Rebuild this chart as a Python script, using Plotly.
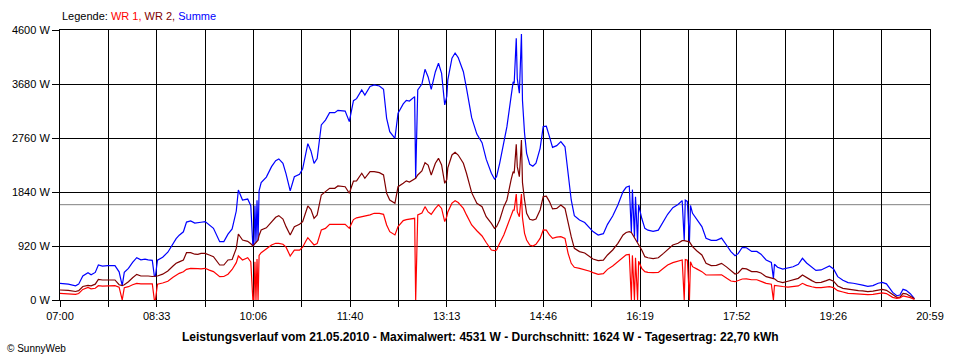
import plotly.graph_objects as go

# Time stamps (HH:MM) and power values in W
times = [
    "07:00", "07:08", "07:15", "07:18", "07:22", "07:27", "07:30", "07:34", "07:37", "07:41",
    "07:46", "07:53", "07:57", "08:00", "08:02", "08:06", "08:10", "08:14", "08:18", "08:22",
    "08:25", "08:29", "08:31", "08:32", "08:34", "08:39", "08:44", "08:49", "08:52", "08:55",
    "08:59", "09:02", "09:06", "09:10", "09:13", "09:16", "09:20",
    "09:24", "09:28", "09:34", "09:38", "09:42", "09:46", "09:50", "09:52", "09:56", "10:01",
    "10:04", "10:06", "10:07", "10:08", "10:09", "10:10", "10:11", "10:12", "10:14", "10:19",
    "10:24", "10:28", "10:31", "10:35", "10:38", "10:42", "10:46", "10:51", "10:54", "10:57",
    "10:59", "11:02", "11:05", "11:08", "11:12", "11:16", "11:20", "11:25", "11:28", "11:35",
    "11:39", "11:43",
    "11:46", "11:51", "11:54", "11:59", "12:03", "12:08", "12:12", "12:15", "12:18", "12:23",
    "12:26", "12:31", "12:34", "12:37", "12:42", "12:43", "12:45", "12:49", "12:52", "12:55",
    "12:58", "13:02", "13:05", "13:08", "13:11", "13:13", "13:14", "13:18", "13:21", "13:24",
    "13:29", "13:32", "13:37", "13:42", "13:47", "13:51", "13:56", "13:59",
    "14:01", "14:04", "14:08", "14:11", "14:15", "14:17", "14:18", "14:20", "14:21", "14:23",
    "14:25", "14:26", "14:28", "14:30", "14:33", "14:36", "14:39", "14:43", "14:46", "14:49",
    "14:52", "14:55", "14:59", "15:03", "15:07", "15:10", "15:13", "15:16", "15:21", "15:26",
    "15:31", "15:34", "15:39", "15:44", "15:48", "15:53", "15:58", "16:03", "16:06", "16:09",
    "16:11", "16:12", "16:14", "16:15", "16:17", "16:18",
    "16:21", "16:24", "16:27", "16:32", "16:37", "16:42", "16:46", "16:51", "16:56", "17:00",
    "17:02", "17:03", "17:05", "17:07", "17:08", "17:10", "17:14", "17:19", "17:23", "17:28",
    "17:33", "17:38", "17:43", "17:47", "17:51", "17:54", "17:58", "18:02", "18:07", "18:12",
    "18:16", "18:21", "18:26", "18:28", "18:29", "18:32", "18:37",
    "18:42", "18:47", "18:52", "18:56", "19:00", "19:05", "19:09", "19:14", "19:19", "19:22",
    "19:26", "19:30", "19:35", "19:40", "19:45", "19:50", "19:54", "19:59", "20:04", "20:09",
    "20:13", "20:17", "20:20", "20:23", "20:27", "20:30", "20:33", "20:36", "20:40", "20:43",
    "20:44",
]

wr2 = [
    170, 165, 145, 160, 230, 250, 240, 270, 352, 341,
    341, 341, 260, 244, 260, 312, 380, 437, 409, 415,
    409, 400, 405, 405, 409, 440, 494, 579, 625, 650,
    682, 806, 806, 780, 778, 795, 795,
    767, 738, 596, 596, 682, 690, 880, 1125, 1022, 1000,
    960, 920, 940, 960, 980, 1000, 1020, 1100, 1193, 1230,
    1335, 1409, 1437, 1380, 1250, 1108, 1250, 1290, 1335, 1477,
    1602, 1540, 1392, 1450, 1789, 1846, 1903, 1903, 1943, 1930,
    1818, 2025,
    2030, 2159, 2073, 2187, 2187, 2170, 2130, 1818, 1704, 1647,
    1931, 1988, 2030, 2010, 2073, 2073, 2130, 2200, 2340, 2300,
    2130, 2330, 2414, 2300, 1988, 2050, 2250, 2471, 2516, 2470,
    2329, 2159, 1829, 1647, 1590, 1420, 1306, 1221,
    1249, 1363, 1590, 1704, 2045, 2187, 2160, 2653, 2272, 2102,
    2726, 2000, 1704, 1477, 1375, 1360, 1380, 1534, 1761, 1770,
    1676, 1551, 1560, 1619, 1560, 1306, 1079, 880, 824, 800,
    727, 699, 670, 680, 767, 852, 966, 1108, 1150, 1164,
    1150, 1120, 1080, 1040, 990, 960,
    852, 738, 720, 704, 720, 795, 864, 937, 966, 1011,
    1011, 1011, 1000, 990, 960, 909, 840, 767, 625, 585,
    590, 625, 560, 500, 443, 460, 540, 530, 483, 483,
    460, 398, 369, 369, 360, 320, 295,
    320, 341, 369, 426, 380, 330, 295, 300, 330, 352,
    320, 239, 199, 182, 175, 159, 155, 142, 150, 170,
    180, 165, 130, 85, 45, 50, 114, 105, 68, 34,
    15,
]

wr1 = [
    114, 105, 97, 110, 180, 215, 190, 200, 244, 235,
    244, 244, 220, 0, 210, 227, 260, 284, 275, 280,
    275, 275, 0, 0, 270, 290, 320, 386, 420, 454,
    480, 522, 540, 530, 535, 530, 540,
    510, 483, 398, 400, 440, 520, 636, 750, 682, 720,
    648, 0, 0, 650, 0, 700, 0, 760, 806, 864,
    937, 966, 966, 950, 900, 750, 850, 850, 900, 1000,
    1062, 1000, 937, 960, 1193, 1220, 1289, 1289, 1289, 1289,
    1221, 1370,
    1400, 1420, 1420, 1450, 1477, 1477, 1460, 1278, 1164, 1108,
    1250, 1352, 1370, 1380, 1392, 0, 1448, 1480, 1590, 1500,
    1460, 1560, 1619, 1560, 1335, 1420, 1500, 1650, 1692, 1660,
    1560, 1450, 1278, 1180, 1091, 980, 852, 840,
    852, 966, 1108, 1249, 1420, 1530, 1530, 1805, 1500, 1420,
    1805, 1400, 1136, 1022, 937, 920, 950, 1050, 1193, 1190,
    1108, 1050, 1070, 1079, 1050, 795, 625, 557, 540, 520,
    490, 466, 437, 450, 522, 579, 653, 738, 770, 778,
    0, 760, 0, 720, 0, 660,
    540, 483, 470, 466, 470, 540, 596, 636, 660, 682,
    0, 690, 680, 0, 650, 568, 530, 483, 426, 430,
    426, 430, 369, 324, 312, 330, 358, 360, 345, 345,
    320, 284, 270, 0, 250, 239, 230,
    220, 225, 239, 284, 250, 225, 210, 212, 225, 227,
    210, 159, 136, 114, 110, 102, 98, 91, 95, 115,
    120, 110, 74, 45, 28, 35, 68, 60, 40, 17,
    10,
]

# Summe = WR 1 + WR 2
summe = [a + b for a, b in zip(wr1, wr2)]

average_w = 1624

x_labels = ["07:00", "", "08:33", "", "10:06", "", "11:40", "", "13:13", "",
            "14:46", "", "16:19", "", "17:52", "", "19:26", "", "20:59"]
y_ticks = [0, 920, 1840, 2760, 3680, 4600]

legend_text = ("Legende: <span style='color:#FF0000'>WR 1, </span>"
               "<span style='color:#800000'>WR 2, </span>"
               "<span style='color:#0000FF'>Summe</span>")
footer_text = ("Leistungsverlauf vom 21.05.2010 - Maximalwert: 4531 W - "
               "Durchschnitt: 1624 W - Tagesertrag: 22,70 kWh")


def to_min(s):
    h, m = s.split(":")
    return int(h) * 60 + int(m)


x = [to_min(t) for t in times]
x_start, x_end = to_min(x_labels[0]), to_min(x_labels[-1])
n = len(x_labels) - 1
x_tickvals = [x_start + (x_end - x_start) * k / n for k in range(n + 1)]

fig = go.Figure()
fig.add_trace(go.Scatter(x=x, y=summe, mode="lines", name="Summe",
                         line=dict(color="#0000FF", width=1.2)))
fig.add_trace(go.Scatter(x=x, y=wr2, mode="lines", name="WR 2",
                         line=dict(color="#800000", width=1.2)))
fig.add_trace(go.Scatter(x=x, y=wr1, mode="lines", name="WR 1",
                         line=dict(color="#FF0000", width=1.2)))

fig.add_hline(y=average_w, line=dict(color="#808080", width=1), layer="below")

font = "Liberation Sans, Arial, sans-serif"
fig.update_layout(
    width=960, height=360,
    margin=dict(l=60, r=30, t=30, b=60),
    paper_bgcolor="white", plot_bgcolor="white",
    showlegend=False,
    font=dict(family=font, size=11, color="black"),
    xaxis=dict(range=[x_start, x_end], tickmode="array", tickvals=x_tickvals,
               ticktext=x_labels, showgrid=True, gridcolor="black", gridwidth=1,
               showline=True, linecolor="black", linewidth=1, mirror=True,
               ticks="outside", ticklen=6, tickcolor="black", zeroline=False,
               tickfont=dict(family=font, size=11, color="black")),
    yaxis=dict(range=[0, 4600], tickmode="array", tickvals=y_ticks,
               ticktext=[f"{v} W" for v in y_ticks], showgrid=True,
               gridcolor="black", gridwidth=1, showline=True, linecolor="black",
               linewidth=1, mirror=True, ticks="outside", ticklen=7,
               tickcolor="black", zeroline=False,
               tickfont=dict(family=font, size=11, color="black")),
    annotations=[
        dict(text=legend_text, xref="paper", yref="paper", x=0.0, y=1.052,
             xanchor="left", yanchor="middle", showarrow=False,
             font=dict(family=font, size=11, color="black")),
        dict(text="<b>" + footer_text + "</b>", xref="paper", yref="paper",
             x=0.4828, y=-0.137, xanchor="center", yanchor="middle",
             showarrow=False, font=dict(family=font, size=12, color="black")),
        dict(text="© SunnyWeb", xref="paper", yref="paper", x=-0.0632, y=-0.178,
             xanchor="left", yanchor="middle", showarrow=False,
             font=dict(family=font, size=10, color="black")),
    ],
)

fig.write_html(
    "out.html",
    config={"displayModeBar": False},
    post_script="document.body.style.margin='0';document.body.style.overflow='hidden';",
)
